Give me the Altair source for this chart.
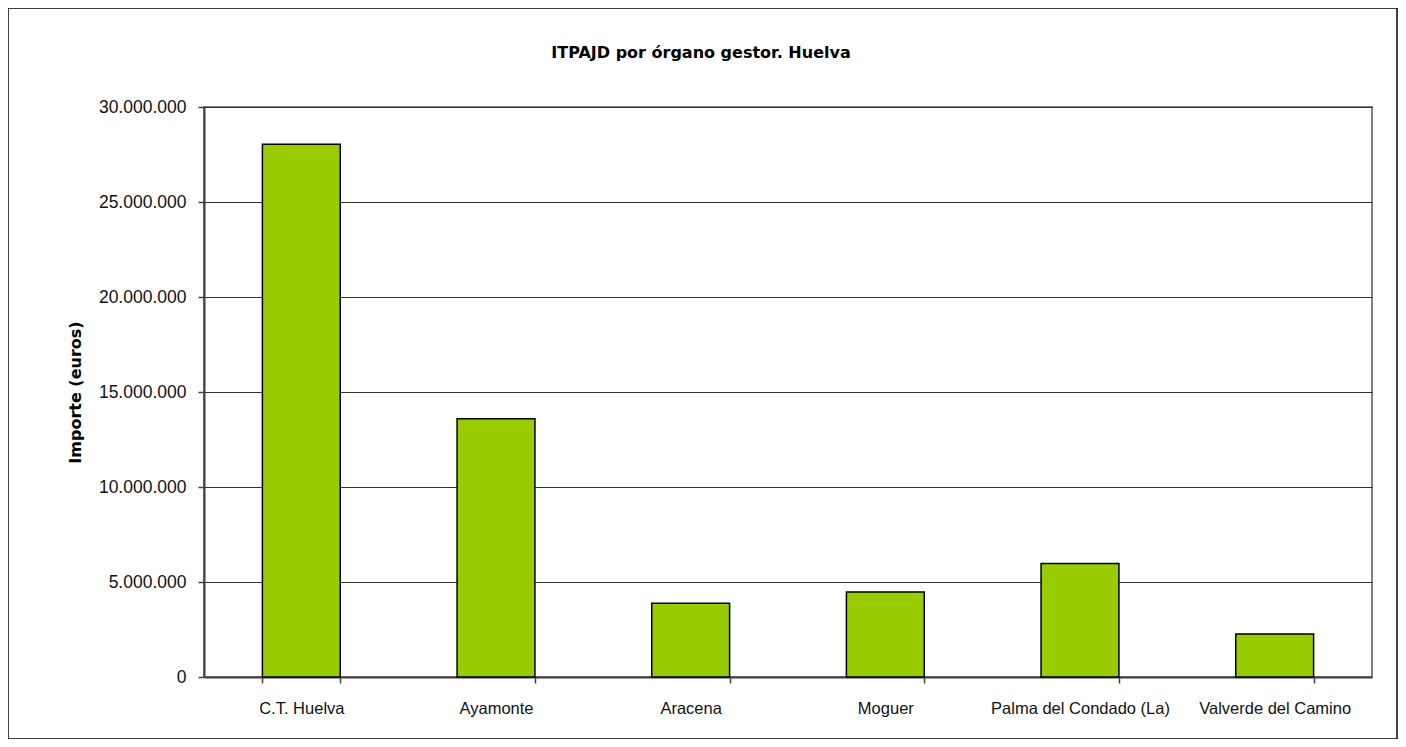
import altair as alt
import pandas as pd

organos = ["C.T. Huelva", "Ayamonte", "Aracena", "Moguer",
           "Palma del Condado (La)", "Valverde del Camino"]
importes = [28040000, 13590000, 3880000, 4480000, 5980000, 2260000]
y_ticks = [0, 5000000, 10000000, 15000000, 20000000, 25000000, 30000000]

df = pd.DataFrame({"organo": organos, "importe": importes})

W, H = 1168, 570

bars = alt.Chart(df).mark_bar(
    fill="#99CC00", stroke="#000000", strokeWidth=1.5
).encode(
    x=alt.X("organo:N", sort=organos, title=None,
            scale=alt.Scale(paddingInner=0.6, paddingOuter=0.3),
            axis=alt.Axis(labelAngle=0, tickBand="extent", grid=False,
                          domainColor="#404040", domainWidth=2,
                          tickColor="#404040", tickWidth=1.5, tickSize=6,
                          labelFont="Liberation Sans", labelFontSize=16.5,
                          labelColor="#111111", labelPadding=17)),
    y=alt.Y("importe:Q", title="Importe (euros)",
            scale=alt.Scale(domain=[0, 30000000], nice=False),
            axis=alt.Axis(values=y_ticks, format=",d", grid=True,
                          gridColor="#333333", gridWidth=1,
                          domainColor="#404040", domainWidth=2,
                          tickColor="#404040", tickWidth=1.5, tickSize=6,
                          labelFont="Liberation Sans", labelFontSize=17.5,
                          labelColor="#111111", labelPadding=12,
                          titleFont="DejaVu Sans", titleFontSize=16,
                          titleFontWeight="bold", titleColor="#000000",
                          titleAngle=-90, titleX=-129, titleY=H / 2,
                          titleAlign="center", titleBaseline="middle")),
)

frame = alt.Chart(alt.Data(values=[{"a": 1}])).mark_rect(
    fill=None, stroke="#000000", strokeWidth=1.5
).encode(
    x=alt.value(-196), x2=alt.value(1193),
    y=alt.value(-99), y2=alt.value(632),
)

chart = alt.layer(frame, bars).properties(
    width=W, height=H,
    autosize=alt.AutoSizeParams(type="none"),
    padding={"left": 196, "top": 99, "right": 26, "bottom": 62},
    title=alt.TitleParams(
        "ITPAJD por órgano gestor. Huelva",
        font="DejaVu Sans", fontSize=16, fontWeight="bold",
        color="#000000", anchor="middle", dx=-87, offset=-54),
).configure(
    locale={"number": {"decimal": ",", "thousands": ".",
                       "grouping": [3], "currency": ["", " €"]}}
).configure_view(
    stroke="#808080", strokeWidth=2
)

chart.save("out.html", embed_options={"renderer": "svg", "actions": False})
